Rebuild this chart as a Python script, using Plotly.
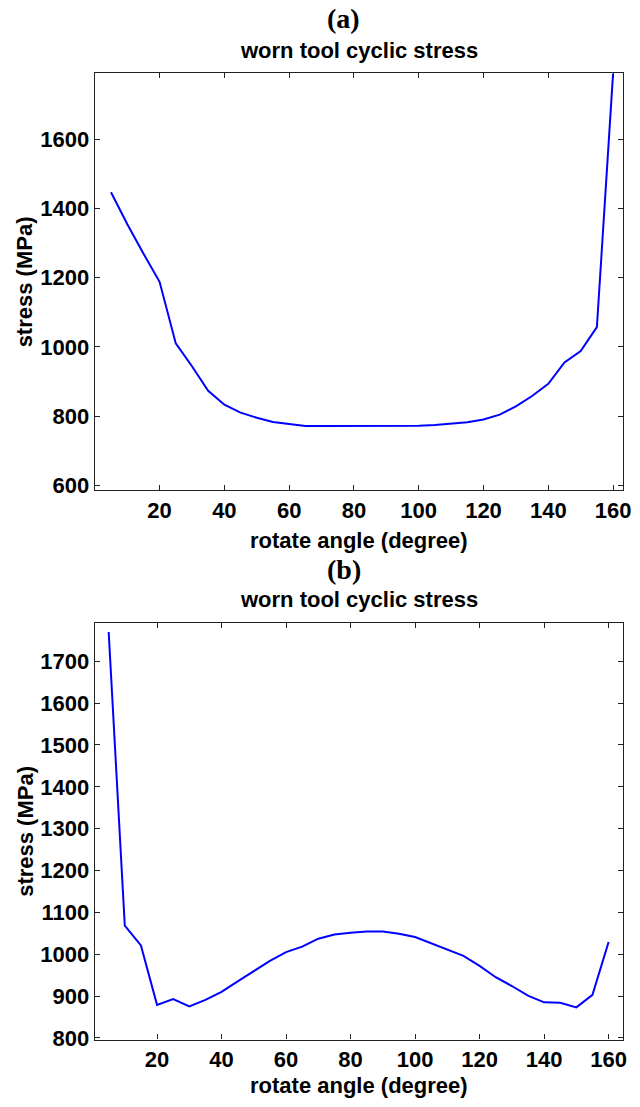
import plotly.graph_objects as go
from plotly.subplots import make_subplots

# rotate angle samples (degree)
angle = [5, 10, 15, 20, 25, 30, 35, 40, 45, 50, 55, 60, 65, 70, 75, 80,
         85, 90, 95, 100, 105, 110, 115, 120, 125, 130, 135, 140, 145, 150, 155, 160]

# (a) worn tool cyclic stress (MPa)
stress_a = [1447, 1355, 1270, 1188, 1010, 944, 873, 833, 810, 795, 783, 776, 771, 771, 771, 771,
            771, 771, 771, 772, 774, 777, 782, 790, 804, 828, 858, 893, 955, 988, 1057, 1790]

# (b) worn tool cyclic stress (MPa)
stress_b = [1770, 1068, 1021, 879, 893, 875, 891, 910, 935, 959, 984, 1005, 1018, 1037, 1047, 1051,
            1054, 1054, 1049, 1041, 1026, 1012, 996, 972, 945, 924, 901, 885, 884, 873, 903, 1029]

xticks = [20, 40, 60, 80, 100, 120, 140, 160]
yticks_a = [600, 800, 1000, 1200, 1400, 1600]
yticks_b = [800, 900, 1000, 1100, 1200, 1300, 1400, 1500, 1600, 1700]

W, H = 640, 1107
FONT = "Liberation Sans"


def py(px):
    return 1 - px / H


fig = make_subplots(rows=2, cols=1)
fig.add_trace(go.Scatter(x=angle, y=stress_a, mode="lines",
                         line=dict(color="#0000ff", width=2)), row=1, col=1)
fig.add_trace(go.Scatter(x=angle, y=stress_b, mode="lines",
                         line=dict(color="#0000ff", width=2)), row=2, col=1)

axis_common = dict(showline=True, linecolor="#222222", linewidth=1.2, mirror="ticks",
                   ticks="inside", ticklen=5, tickcolor="#222222", showgrid=False,
                   zeroline=False, tickfont=dict(family=FONT, size=22, color="black", weight="bold"))

fig.update_xaxes(domain=[96 / W, 631 / W], tickvals=xticks, **axis_common)
fig.update_yaxes(ticklabelstandoff=0, **axis_common)
fig.update_xaxes(range=[0, 163.1], row=1, col=1)
fig.update_xaxes(range=[0.7, 164.5], row=2, col=1)
fig.update_yaxes(domain=[py(495), py(74)], range=[586, 1791], tickvals=yticks_a, row=1, col=1)
fig.update_yaxes(domain=[py(1050), py(629)], range=[796, 1792], tickvals=yticks_b, row=2, col=1)

title_font = dict(family=FONT, size=22, color="black", weight="bold")
panel_font = dict(family="Liberation Serif", size=28, color="black", weight="bold")
cx = (96 + 631) / 2 / W

texts = [
    ("(a)", 348 / W, py(19), panel_font, 0, "middle", 0),
    ("worn tool cyclic stress", cx, py(51), title_font, 0, "middle", 0),
    ("rotate angle (degree)", cx, py(546), title_font, 0, "middle", 0),
    ("stress (MPa)", 25 / W, py(284.5), title_font, -90, "middle", 0),
    ("(b)", 348 / W, py(575), panel_font, 0, "middle", 0),
    ("worn tool cyclic stress", cx, py(606), title_font, 0, "middle", 0),
    ("rotate angle (degree)", cx, 0, title_font, 0, "bottom", -4),
    ("stress (MPa)", 25 / W, py(839.5), title_font, -90, "middle", 0),
]
for t, x, y, f, ang, ya, ys in texts:
    fig.add_annotation(text=t, x=x, y=y, xref="paper", yref="paper", showarrow=False,
                       xanchor="center", yanchor=ya, yshift=ys, font=f, textangle=ang)

fig.update_layout(width=W, height=H, margin=dict(l=0, r=0, t=0, b=0),
                  paper_bgcolor="white", plot_bgcolor="white", showlegend=False)

fig.write_html("out.html")
